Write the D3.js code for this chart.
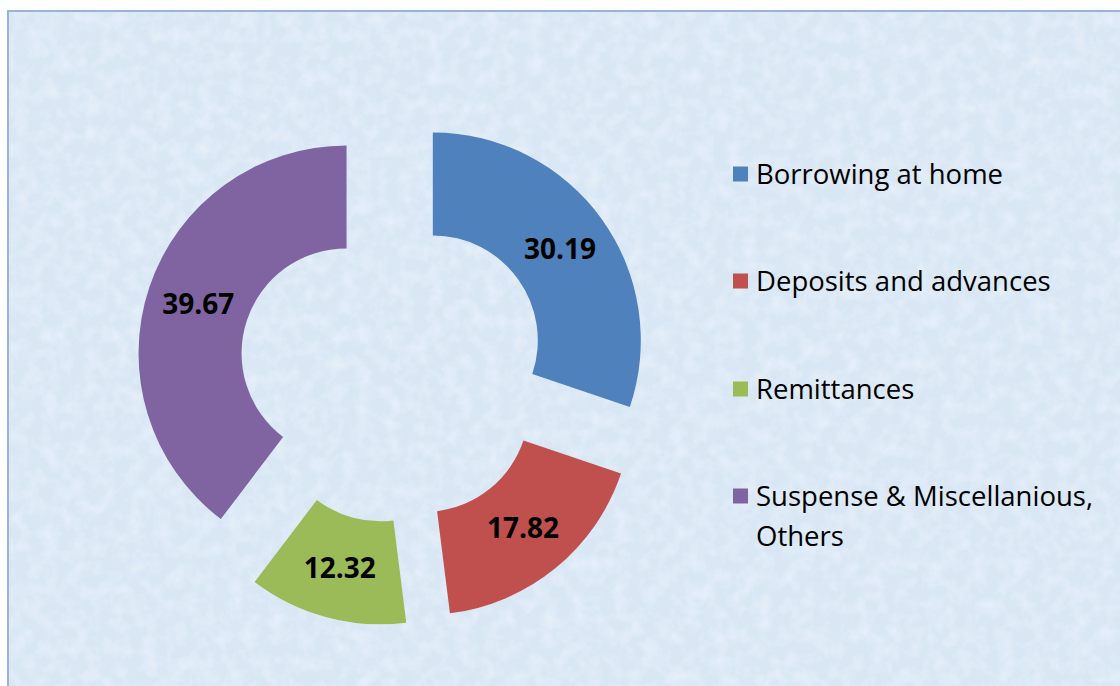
<!DOCTYPE html>
<html><head><meta charset="utf-8">
<script src="https://cdn.jsdelivr.net/npm/d3@7"></script>
<style>html,body{margin:0;padding:0;background:#fff;}svg{display:block;}</style>
</head><body>
<svg id="chart" width="1120" height="686"></svg>
<script>
const categories = ["Borrowing at home", "Deposits and advances", "Remittances", "Suspense & Miscellanious, Others"];
const values = [30.19, 17.82, 12.32, 39.67];
const labels = ["30.19", "17.82", "12.32", "39.67"];
const colors = ["#4f81bd", "#c0504d", "#9bbb59", "#8064a2"];

const svg = d3.select("#chart");
const defs = svg.append("defs");
const f = defs.append("filter").attr("id","tex").attr("x",0).attr("y",0).attr("width","100%").attr("height","100%");
f.append("feTurbulence").attr("type","fractalNoise").attr("baseFrequency","0.07").attr("numOctaves",3).attr("seed",7).attr("result","n");
f.append("feColorMatrix").attr("in","n").attr("type","matrix")
 .attr("values","0 0 0 0 1  0 0 0 0 1  0 0 0 0 1  0 0 0 1.4 -0.55");

svg.append("rect").attr("x",7).attr("y",10).attr("width",1120).attr("height",690).attr("fill","#d9e7f5");
svg.append("rect").attr("x",7).attr("y",10).attr("width",1120).attr("height",690).attr("fill","#fff").attr("filter","url(#tex)").attr("opacity",0.5);
svg.append("rect").attr("x",8).attr("y",11).attr("width",1120).attr("height",690).attr("fill","none").attr("stroke","#96b4dc").attr("stroke-width",2);

const cx = 393, cy = 369, R = 208, r = 105, explode = 49;
const pie = d3.pie().sort(null).value(d => d).startAngle(0).endAngle(2*Math.PI);
const arcs = pie(values);
const arc = d3.arc().innerRadius(r).outerRadius(R);
const g = svg.append("g").attr("transform", `translate(${cx},${cy})`);
const sl = g.selectAll("g.s").data(arcs).enter().append("g")
  .attr("transform", d => { const a = (d.startAngle + d.endAngle)/2; return `translate(${explode*Math.sin(a)},${-explode*Math.cos(a)})`; });
sl.append("path").attr("d", arc).attr("fill", (d,i) => colors[i]);
sl.append("text").attr("transform", d => `translate(${arc.centroid(d)})`)
  .attr("text-anchor","middle").attr("dy","0.36em")
  .style("font-family","'Open Sans', sans-serif").style("font-weight","bold").style("font-size","28px").attr("fill","#000")
  .text((d,i) => labels[i]);

const legY = [174, 281, 389, 496];
const lg = svg.append("g");
categories.forEach((c,i) => {
  lg.append("rect").attr("x",733).attr("y",legY[i]-7.5).attr("width",15).attr("height",15).attr("fill",colors[i]);
  const t = lg.append("text").attr("x",756).attr("y",legY[i]).attr("dy","0.36em")
    .style("font-family","'Open Sans', sans-serif").style("font-size","27.5px").attr("fill","#000");
  if (i === 3) {
    t.append("tspan").attr("x",756).text("Suspense & Miscellanious,");
    t.append("tspan").attr("x",756).attr("dy","1.45em").text("Others");
  } else t.text(c);
});
</script>
</body></html>
